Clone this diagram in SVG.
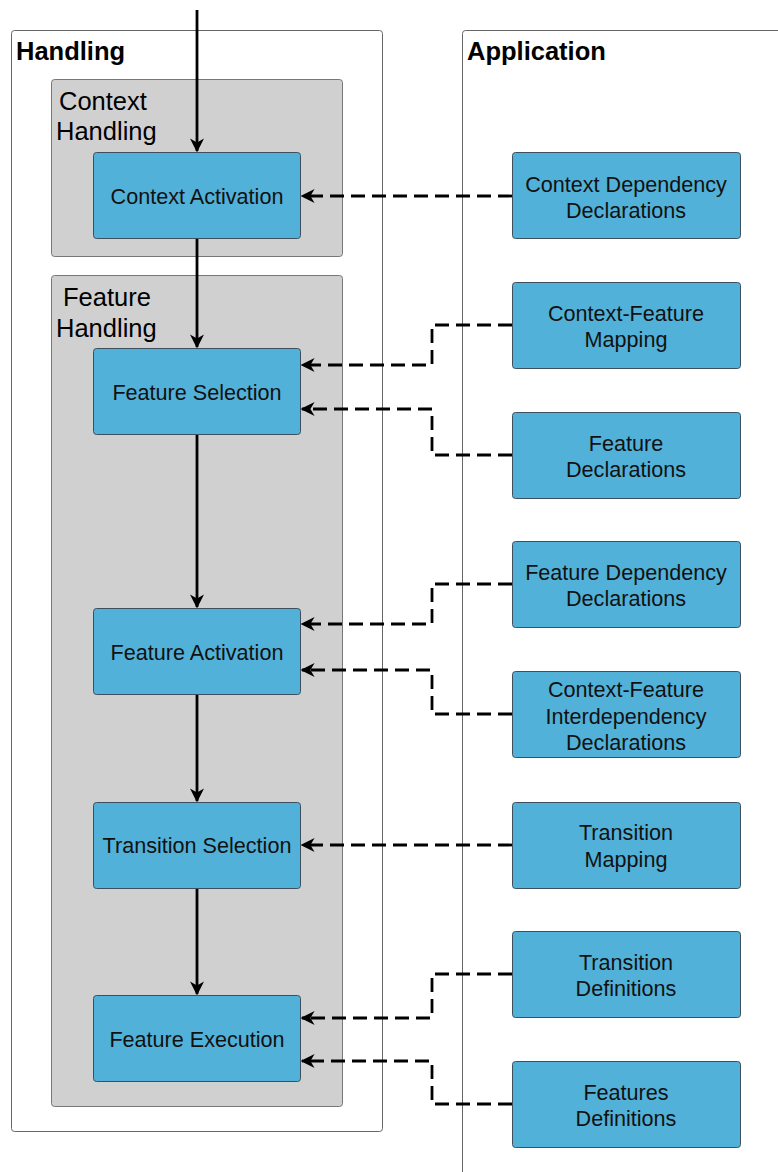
<svg xmlns="http://www.w3.org/2000/svg" width="778" height="1172" viewBox="0 0 778 1172">
  <defs>
    <style>
      .lane { fill: #ffffff; stroke: #666666; stroke-width: 1; }
      .group { fill: #d0d0d0; stroke: #777777; stroke-width: 1; }
      .step { fill: #52b1d9; stroke: #3d4f5c; stroke-width: 1; }
      .title { font-family: "Liberation Sans", Arial, sans-serif; font-size: 25.5px; font-weight: bold; fill: #000; }
      .gtitle { font-family: "Liberation Sans", Arial, sans-serif; font-size: 25.5px; fill: #000; }
      .label { font-family: "Liberation Sans", Arial, sans-serif; font-size: 21.6px; fill: #111; text-anchor: middle; }
      .flow { fill: none; stroke: #000; stroke-width: 2.8; marker-end: url(#arrow); }
      .dep { fill: none; stroke: #000; stroke-width: 2.8; stroke-dasharray: 14 7; marker-end: url(#arrow); }
    </style>
    <marker id="arrow" viewBox="0 0 10 10" refX="9" refY="5" markerWidth="5" markerHeight="5" orient="auto" markerUnits="strokeWidth">
      <path d="M0,0 L10,5 L0,10 L3,5 Z" fill="#000"/>
    </marker>
  </defs>

  <!-- swimlanes -->
  <g id="lane-handling">
    <rect class="lane" x="11.5" y="30.5" width="371" height="1101" rx="3"/>
    <text class="title" x="16" y="60">Handling</text>
  </g>
  <g id="lane-application">
    <path class="lane" d="M462.5,1172 V33.5 Q462.5,30.5 465.5,30.5 H778" />
    <text class="title" x="467" y="60">Application</text>
  </g>

  <!-- handling groups -->
  <g id="group-context-handling">
    <rect class="group" x="51.5" y="79.5" width="291" height="177" rx="3"/>
    <text class="gtitle" x="59" y="110">Context</text>
    <text class="gtitle" x="56" y="140">Handling</text>
  </g>
  <g id="group-feature-handling">
    <rect class="group" x="51.5" y="275.5" width="291" height="831" rx="3"/>
    <text class="gtitle" x="63" y="306">Feature</text>
    <text class="gtitle" x="56" y="337">Handling</text>
  </g>

  <!-- handling steps -->
  <g id="context-activation">
    <rect class="step" x="93.5" y="152.5" width="207" height="86" rx="3"/>
    <text class="label" x="197" y="204">Context Activation</text>
  </g>
  <g id="feature-selection">
    <rect class="step" x="93.5" y="348.5" width="207" height="86" rx="3"/>
    <text class="label" x="197" y="400">Feature Selection</text>
  </g>
  <g id="feature-activation">
    <rect class="step" x="93.5" y="608.5" width="207" height="86" rx="3"/>
    <text class="label" x="197" y="660">Feature Activation</text>
  </g>
  <g id="transition-selection">
    <rect class="step" x="93.5" y="802.5" width="207" height="86" rx="3"/>
    <text class="label" x="197" y="853">Transition Selection</text>
  </g>
  <g id="feature-execution">
    <rect class="step" x="93.5" y="995.5" width="207" height="86" rx="3"/>
    <text class="label" x="197" y="1047">Feature Execution</text>
  </g>

  <!-- application artifacts -->
  <g id="context-dependency-declarations">
    <rect class="step" x="512.5" y="152.5" width="228" height="86" rx="3"/>
    <text class="label" x="626" y="192">Context Dependency</text>
    <text class="label" x="626" y="218">Declarations</text>
  </g>
  <g id="context-feature-mapping">
    <rect class="step" x="512.5" y="282.5" width="228" height="86" rx="3"/>
    <text class="label" x="626" y="321">Context-Feature</text>
    <text class="label" x="626" y="347">Mapping</text>
  </g>
  <g id="feature-declarations">
    <rect class="step" x="512.5" y="412.5" width="228" height="86" rx="3"/>
    <text class="label" x="626" y="451">Feature</text>
    <text class="label" x="626" y="477">Declarations</text>
  </g>
  <g id="feature-dependency-declarations">
    <rect class="step" x="512.5" y="541.5" width="228" height="86" rx="3"/>
    <text class="label" x="626" y="580">Feature Dependency</text>
    <text class="label" x="626" y="606">Declarations</text>
  </g>
  <g id="context-feature-interdependency-declarations">
    <rect class="step" x="512.5" y="671.5" width="228" height="86" rx="3"/>
    <text class="label" x="626" y="697">Context-Feature</text>
    <text class="label" x="626" y="724">Interdependency</text>
    <text class="label" x="626" y="750">Declarations</text>
  </g>
  <g id="transition-mapping">
    <rect class="step" x="512.5" y="802.5" width="228" height="86" rx="3"/>
    <text class="label" x="626" y="840">Transition</text>
    <text class="label" x="626" y="867">Mapping</text>
  </g>
  <g id="transition-definitions">
    <rect class="step" x="512.5" y="931.5" width="228" height="86" rx="3"/>
    <text class="label" x="626" y="970">Transition</text>
    <text class="label" x="626" y="996">Definitions</text>
  </g>
  <g id="features-definitions">
    <rect class="step" x="512.5" y="1061.5" width="228" height="86" rx="3"/>
    <text class="label" x="626" y="1100">Features</text>
    <text class="label" x="626" y="1126">Definitions</text>
  </g>

  <!-- connectors -->
  <g id="connectors">
    <path class="flow" d="M197,10 V151"/>
    <path class="flow" d="M197,239 V347"/>
    <path class="flow" d="M197,435 V607"/>
    <path class="flow" d="M197,695 V801"/>
    <path class="flow" d="M197,889 V994"/>

    <path class="dep" d="M512,196 H302"/>
    <path class="dep" d="M512,325 H432 V365 H302"/>
    <path class="dep" d="M512,455 H432 V409 H302"/>
    <path class="dep" d="M512,584 H432 V624 H302"/>
    <path class="dep" d="M512,714 H432 V670 H302"/>
    <path class="dep" d="M512,845 H302"/>
    <path class="dep" d="M512,974 H432 V1018 H302"/>
    <path class="dep" d="M512,1104 H432 V1061 H302"/>
  </g>
</svg>
